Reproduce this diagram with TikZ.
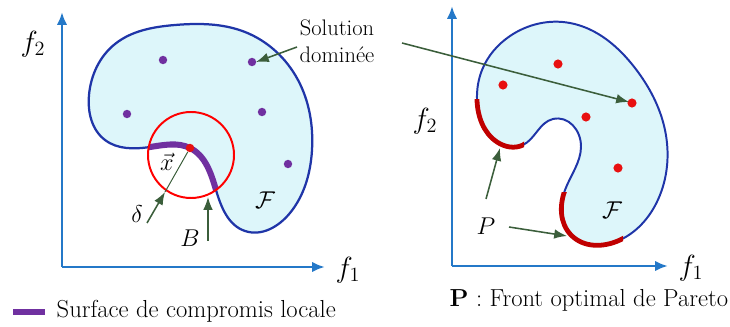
\documentclass[tikz,border=0pt]{standalone}
\usepackage{tikz}
\usetikzlibrary{arrows.meta, calc, hobby}
\definecolor{axisblue}{HTML}{2478C8}
\definecolor{edgeblue}{HTML}{1F35A8}
\definecolor{regionfill}{HTML}{DDF6FA}
\definecolor{frontpurple}{HTML}{7030A0}
\definecolor{frontred}{HTML}{C00000}
\definecolor{pointred}{HTML}{E81010}
\definecolor{pointergreen}{HTML}{3B5E3B}

% outlines of the two feasible regions
\newcommand{\regionleft}{plot[closed hobby] coordinates {
    (190,148) (216,190) (245,231) (290,213) (312,150) (298,80)
    (245,32) (175,25) (115,44) (89,95) (105,140) (150,147)}}
\newcommand{\regionright}{plot[closed hobby] coordinates {
    (477,100) (497,142) (523,145) (553,119) (581,147) (565,190)
    (571,235) (620,240) (660,195) (665,130) (635,68) (570,23)
    (510,36) (482,70)}}

\begin{document}
\begin{tikzpicture}[
    x=0.025cm, y=-0.025cm,
    axis/.style={draw=axisblue, line width=2pt, -{Latex[length=3.2mm, width=2.6mm]}},
    region/.style={draw=edgeblue, line width=1.6pt, fill=regionfill},
    pointer/.style={draw=pointergreen, line width=1.1pt, -{Latex[length=3.2mm, width=2.4mm]}},
    sol/.style={circle, inner sep=0pt, minimum size=6pt, fill=frontpurple},
    solr/.style={circle, inner sep=0pt, minimum size=6.5pt, fill=pointred},
    lbl/.style={font=\fontsize{18}{20}\selectfont, inner sep=1pt},
    axl/.style={font=\fontsize{21}{24}\selectfont, inner sep=1pt},
    txt/.style={font=\fontsize{16}{19}\selectfont, inner sep=1pt},
    legtxt/.style={font=\fontsize{17.5}{20}\selectfont, inner sep=1pt}
]
\useasboundingbox (0,0) rectangle (730,327);

% ---- left panel ----
\coordinate (o1) at (62,267);
\coordinate (x1end) at (325,267);
\coordinate (y1end) at (62,12);
\coordinate (ball) at (191,155);
\draw[region] \regionleft;
\begin{scope}
  \clip (ball) circle [radius=43];
  \draw[frontpurple, line width=4.3pt] \regionleft;
\end{scope}
\draw[red, line width=1.4pt] (ball) circle [radius=43];
\node[solr, minimum size=6pt] (xs) at (190,148) {};
\coordinate (rim) at (165,192);
\coordinate (rimb) at (208,197);
\draw[pointergreen, line width=0.7pt] (xs) -- (rim);

\node[sol] (s1) at (163,60) {};
\node[sol] (s2) at (252,62) {};
\node[sol] (s3) at (127,114) {};
\node[sol] (s4) at (262,112) {};
\node[sol] (s5) at (288,164) {};

\draw[axis] (o1) -- (x1end);
\draw[axis] (o1) -- (y1end);
\node[axl] (f21) at (33,44) {$f_2$};
\node[axl] (f11) at (348,270) {$f_1$};
\node[lbl] (xlab) at (167,162) {$\vec{x}$};
\node[lbl] (F1) at (265,200) {$\mathcal{F}$};
\node[lbl] (delta) at (137,214) {$\delta$};
\node[lbl] (B) at (190,238) {$B$};
\coordinate (dstart) at (147,223);
\coordinate (bstart) at (208,241);
\draw[pointer] (dstart) -- (rim);
\draw[pointer] (bstart) -- (rimb);

% ---- right panel ----
\coordinate (o2) at (452,266);
\coordinate (x2end) at (668,266);
\coordinate (y2end) at (452,6);
\draw[region, line width=1.4pt] \regionright;
\begin{scope}
  \clip (470,100) rectangle (524,165);
  \draw[frontred, line width=3.4pt] \regionright;
\end{scope}
\begin{scope}
  \clip (550,193) rectangle (623,255);
  \draw[frontred, line width=3.4pt] \regionright;
\end{scope}

\node[solr] (r1) at (558,64) {};
\node[solr] (r2) at (503,85) {};
\node[solr] (r3) at (632,103) {};
\node[solr] (r4) at (586,117) {};
\node[solr] (r5) at (618,168) {};

\draw[axis] (o2) -- (x2end);
\draw[axis] (o2) -- (y2end);
\node[axl] (f22) at (425,121) {$f_2$};
\node[axl] (f12) at (691,268) {$f_1$};
\node[lbl] (F2) at (612,210) {$\mathcal{F}$};
\node[lbl] (P) at (486,226) {$P$};
\coordinate (front1) at (500,148);
\coordinate (front2) at (567,236);
\coordinate (pup) at (486,199);
\coordinate (pright) at (509,227);
\draw[pointer] (pup) -- (front1);
\draw[pointer] (pright) -- (front2);

% ---- shared label ----
\node[txt, align=center] (dom) at (337,41) {Solution\\domin\'ee};
\coordinate (dleft) at (297,47);
\coordinate (dright) at (402,43);
\draw[pointer] (dleft) -- ($(s2)+(4,0)$);
\draw[pointer] (dright) -- ($(r3)+(-3,-1)$);

% ---- legends ----
\coordinate (bar1) at (13,312);
\coordinate (bar2) at (45,312);
\draw[frontpurple, line width=4.5pt] (bar1) -- (bar2);
\node[legtxt, anchor=west] (leg1) at (55,311) {Surface de compromis locale};
\node[legtxt, anchor=west] (leg2) at (448,300) {\textbf{P} : Front optimal de Pareto};
\end{tikzpicture}
\end{document}
